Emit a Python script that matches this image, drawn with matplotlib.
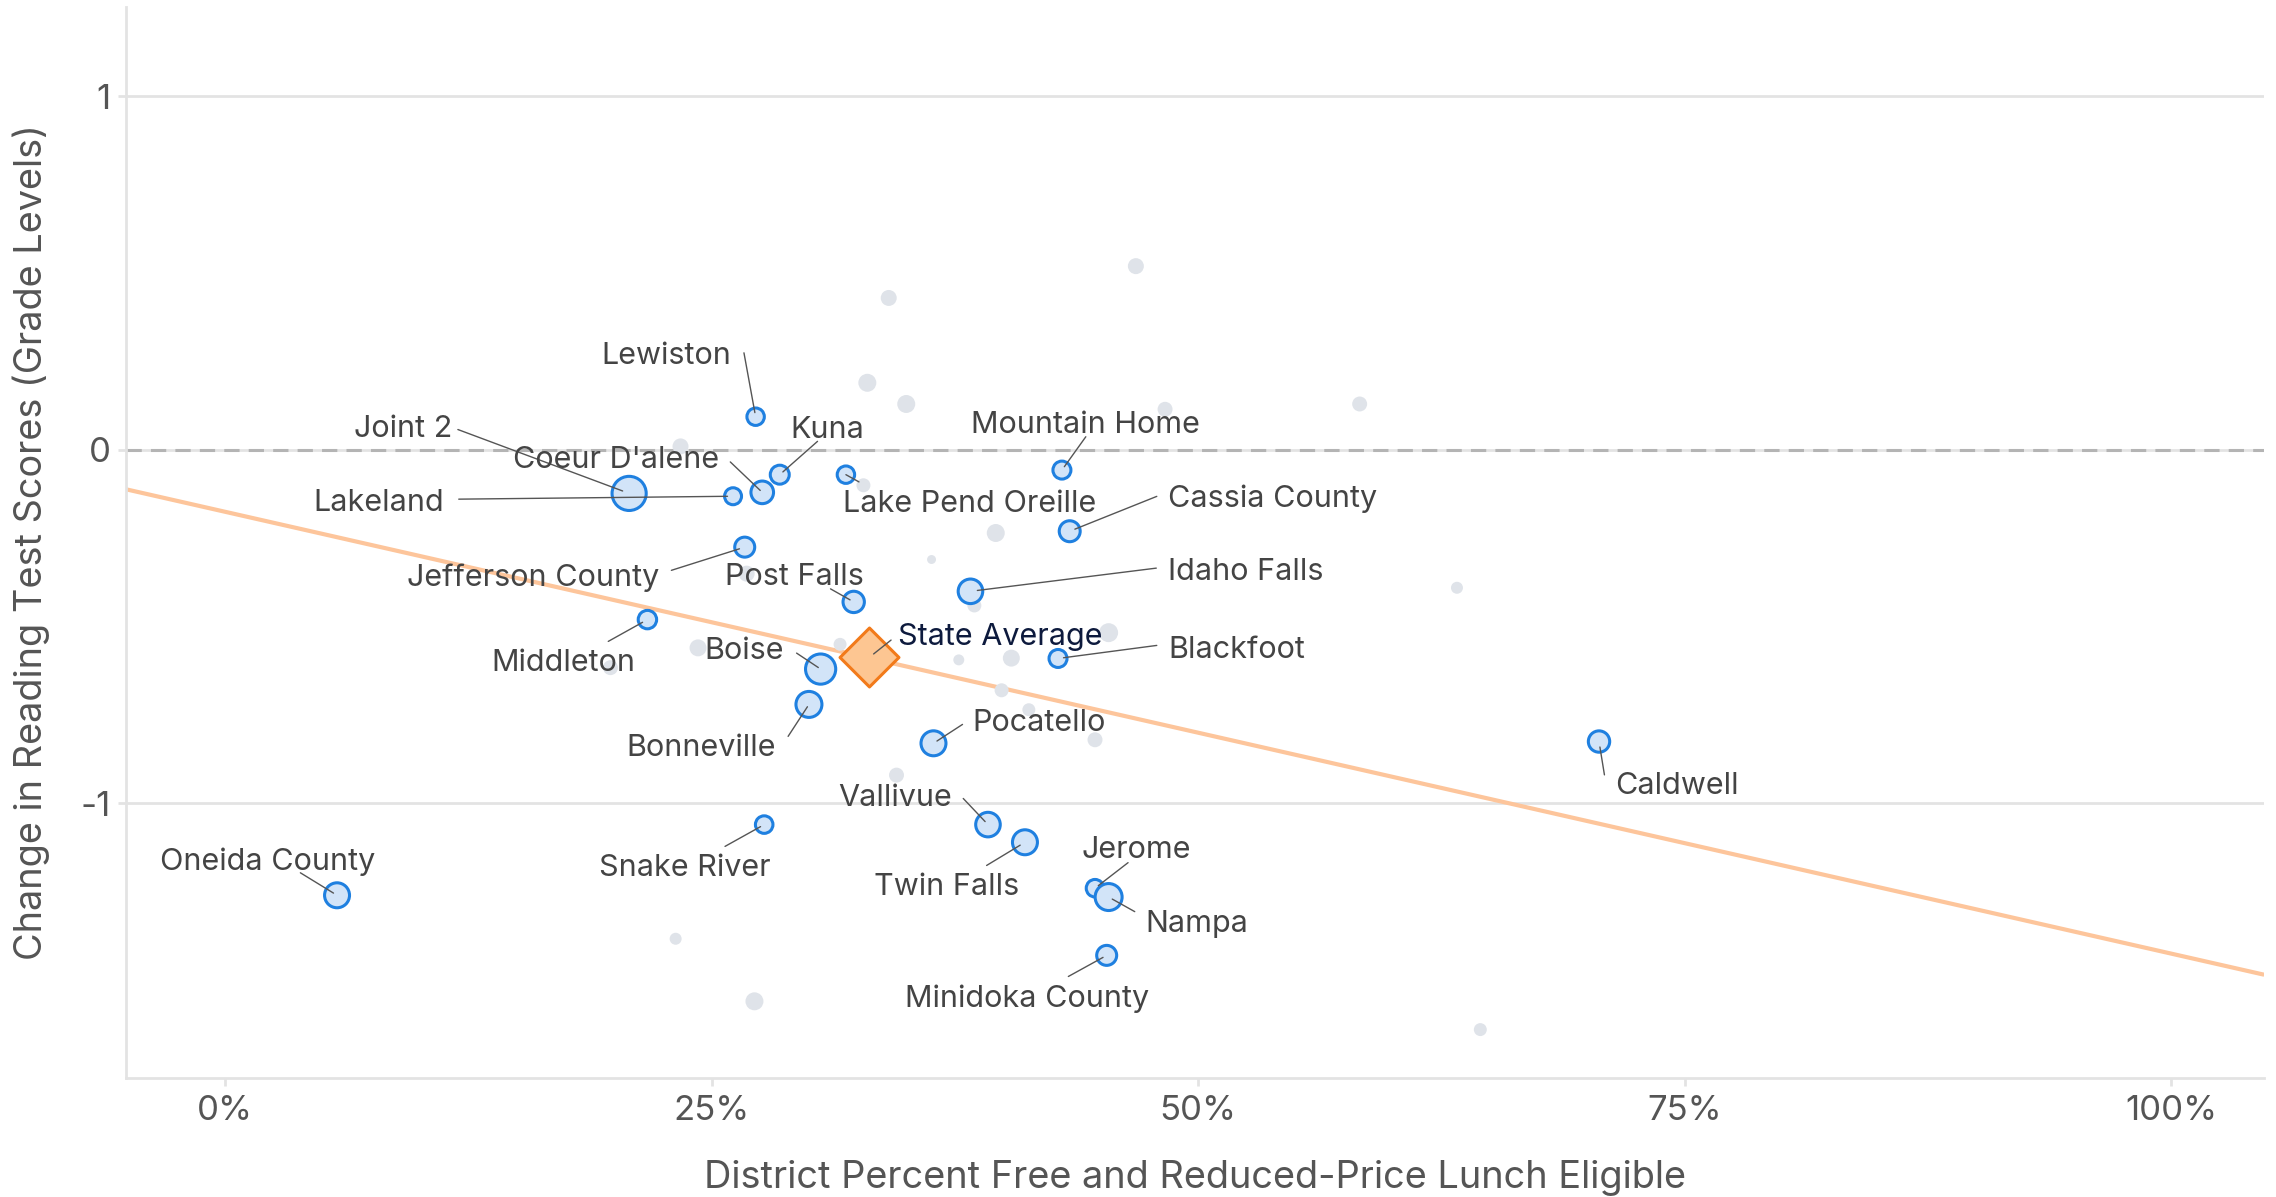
import matplotlib
matplotlib.use("Agg")
import matplotlib.pyplot as plt
import numpy as np

plt.rcParams['font.family'] = ['Inter', 'DejaVu Sans']

# labelled districts
districts = ['Lewiston', 'Kuna', "Coeur D'alene", 'Joint 2', 'Lakeland',
             'Lake Pend Oreille', 'Mountain Home', 'Cassia County',
             'Jefferson County', 'Post Falls', 'Idaho Falls', 'Middleton',
             'Blackfoot', 'Boise', 'Bonneville', 'Pocatello', 'Caldwell',
             'Vallivue', 'Twin Falls', 'Snake River', 'Jerome', 'Nampa',
             'Oneida County', 'Minidoka County']
frl = [0.2726, 0.285, 0.276, 0.2076, 0.261,
       0.319, 0.430, 0.434,
       0.267, 0.323, 0.383, 0.217,
       0.428, 0.306, 0.300, 0.364, 0.706,
       0.392, 0.411, 0.277, 0.447, 0.454,
       0.0575, 0.453]
change = [0.094, -0.07, -0.12, -0.123, -0.131,
          -0.07, -0.057, -0.23,
          -0.275, -0.43, -0.40, -0.48,
          -0.59, -0.62, -0.72, -0.83, -0.825,
          -1.06, -1.11, -1.06, -1.24, -1.265,
          -1.26, -1.43]
weight = [7.6, 9.0, 12.8, 29.2, 7.2,
          7.6, 8.1, 11.0,
          10.0, 11.4, 15.1, 8.5,
          8.1, 22.8, 16.9, 15.6, 11.4,
          15.1, 15.6, 7.7, 7.7, 18.2,
          15.6, 10.0]

# other districts (unlabelled)
other_frl = [0.468, 0.341, 0.330, 0.350, 0.583, 0.483, 0.234, 0.328, 0.396,
             0.363, 0.633, 0.385, 0.454, 0.316, 0.377, 0.404, 0.243, 0.198,
             0.399, 0.413, 0.447, 0.345, 0.2315, 0.272, 0.645, 0.268]
other_change = [0.52, 0.43, 0.19, 0.13, 0.13, 0.115, 0.01, -0.10, -0.235,
                -0.31, -0.39, -0.44, -0.517, -0.55, -0.594, -0.589, -0.56, -0.616,
                -0.68, -0.735, -0.82, -0.92, -1.383, -1.56, -1.64, -0.35]
other_weight = [6.4, 6.4, 8.1, 8.1, 5.6, 5.6, 6.4, 4.9, 8.1,
                2.0, 3.6, 4.9, 9.0, 4.2, 3.0, 7.2, 7.2, 5.6,
                4.9, 4.2, 5.6, 5.6, 3.6, 8.1, 4.2, 6.4]

state_avg_frl = 0.331
state_avg_change = -0.587

trend_intercept = -0.175
trend_slope = -1.25

x_ticks = [0, 0.25, 0.5, 0.75, 1.0]
x_tick_labels = ['0%', '25%', '50%', '75%', '100%']
y_ticks = [-1, 0, 1]
y_tick_labels = ['-1', '0', '1']

# label placement: text offset (pt), alignment, leader start offset (pt), shrink at point
label_layout = {
    'Lewiston': ((-17.8, 47.0), 'right', (-8.4, 46.0), 3),
    'Joint 2': ((-127.5, 49.1), 'right', (-123.3, 46.0), 5),
    "Coeur D'alene": ((-31.4, 26.1), 'right', (-23.0, 21.9), 2),
    'Kuna': ((7.3, 35.5), 'left', (27.2, 24.0), 3),
    'Lakeland': ((-208.0, -2.1), 'right', (-197.5, -2.1), 4),
    'Lake Pend Oreille': ((-2.1, -17.8), 'left', (9.4, -5.2), 0),
    'Mountain Home': ((16.7, 35.5), 'center', (17.2, 24.0), 3),
    'Cassia County': ((71.0, 26.1), 'left', (62.7, 25.1), 4),
    'Jefferson County': ((-61.7, -18.8), 'right', (-52.8, -16.7), 4),
    'Post Falls': ((7.3, 20.9), 'right', (-16.7, 9.4), 3),
    'Idaho Falls': ((142.1, 16.7), 'left', (133.8, 16.7), 5),
    'Middleton': ((-60.6, -28.2), 'center', (-28.2, -15.7), 4),
    'Blackfoot': ((79.4, 9.4), 'left', (71.1, 9.4), 4),
    'Boise': ((-26.1, 15.7), 'right', (-17.3, 11.5), 2),
    'Bonneville': ((-24.0, -28.2), 'right', (-15.0, -23.0), 2),
    'Pocatello': ((28.2, 17.8), 'left', (20.9, 13.6), 3),
    'Caldwell': ((11.5, -29.3), 'left', (3.9, -24.0), 4),
    'Vallivue': ((-26.1, 21.9), 'right', (-17.8, 18.8), 3),
    'Twin Falls': ((-4.2, -29.3), 'right', (-27.6, -16.7), 4),
    'Snake River': ((-57.0, -28.2), 'center', (-28.2, -15.7), 3),
    'Jerome': ((-9.4, 30.3), 'left', (23.8, 18.4), 3),
    'Nampa': ((26.1, -16.7), 'left', (18.8, -10.5), 3),
    'Oneida County': ((-50.2, 27.2), 'center', (-26.4, 16.2), 3),
    'Minidoka County': ((-57.5, -28.2), 'center', (-27.6, -15.2), 3),
}
label_nudge = -3.0  # shift all label texts down a little (pt)

W, H, DPI = 2276, 1197, 100
fig = plt.figure(figsize=(W / DPI, H / DPI), dpi=DPI)
ax = fig.add_axes([0.0554, 0.0994, 0.9394, 0.8947])

grid_c = '#e3e3e3'
text_c = '#444444'
blue_edge = '#1f80e0'
blue_fill = '#d2e4f8'
gray_dot = '#dfe3e9'
orange_line = '#fdc59b'

xlim = (-0.0509, 1.0478)
ax.set_xlim(*xlim)
ax.set_ylim(-1.777, 1.253)

for yv in y_ticks:
    ax.axhline(yv, color=grid_c, lw=2.0, zorder=0.5)
ax.axhline(0, color='#b4b4b4', lw=2.2, ls=(0, (5, 3)), zorder=0.6)

# trend line
xs = np.array(xlim)
ax.plot(xs, trend_intercept + trend_slope * xs, color=orange_line, lw=3.0,
        zorder=1.5, solid_capstyle='butt')

size_k = 20.7
ax.scatter(other_frl, other_change, s=np.array(other_weight) * size_k,
           color=gray_dot, edgecolors='none', zorder=2)
ax.scatter(frl, change, s=np.array(weight) * size_k, facecolor=blue_fill,
           edgecolors=blue_edge, linewidths=2.2, zorder=3)
ax.scatter([state_avg_frl], [state_avg_change], marker='D', s=900,
           facecolor='#fdc692', edgecolors='#f27a1a', linewidths=2.2, zorder=4)

for name, xv, yv in zip(districts, frl, change):
    (tdx, tdy), ha, (ldx, ldy), shr = label_layout[name]
    ax.annotate('', xy=(xv, yv), xytext=(ldx, ldy), textcoords='offset points',
                arrowprops=dict(arrowstyle='-', color='#555555', lw=1.0,
                                shrinkA=0, shrinkB=shr), zorder=4.5)
    ax.annotate(name, xy=(xv, yv), xytext=(tdx, tdy + label_nudge),
                textcoords='offset points', ha=ha, va='center', fontsize=22,
                color=text_c, zorder=5)

ax.annotate('', xy=(state_avg_frl, state_avg_change), xytext=(15.7, 12.5),
            textcoords='offset points',
            arrowprops=dict(arrowstyle='-', color='#555555', lw=1.0,
                            shrinkA=0, shrinkB=4), zorder=4.5)
ax.annotate('State Average', xy=(state_avg_frl, state_avg_change),
            xytext=(20.9, 17.8 + label_nudge), textcoords='offset points',
            ha='left', va='center', fontsize=22, color='#0d1a3d', zorder=5)

ax.set_xticks(x_ticks)
ax.set_xticklabels(x_tick_labels)
ax.set_yticks(y_ticks)
ax.set_yticklabels(y_tick_labels)
ax.tick_params(axis='both', labelsize=25, labelcolor='#555555', color=grid_c,
               width=2.0, length=6, pad=5)
ax.tick_params(axis='x', pad=6)

for side in ['top', 'right']:
    ax.spines[side].set_visible(False)
for side in ['left', 'bottom']:
    ax.spines[side].set_color(grid_c)
    ax.spines[side].set_linewidth(2.0)

ax.set_xlabel('District Percent Free and Reduced-Price Lunch Eligible',
              fontsize=27.3, color='#555555', labelpad=24)
ax.set_ylabel('Change in Reading Test Scores (Grade Levels)',
              fontsize=27.3, color='#555555', labelpad=22)

fig.savefig('out.png', dpi=DPI)
